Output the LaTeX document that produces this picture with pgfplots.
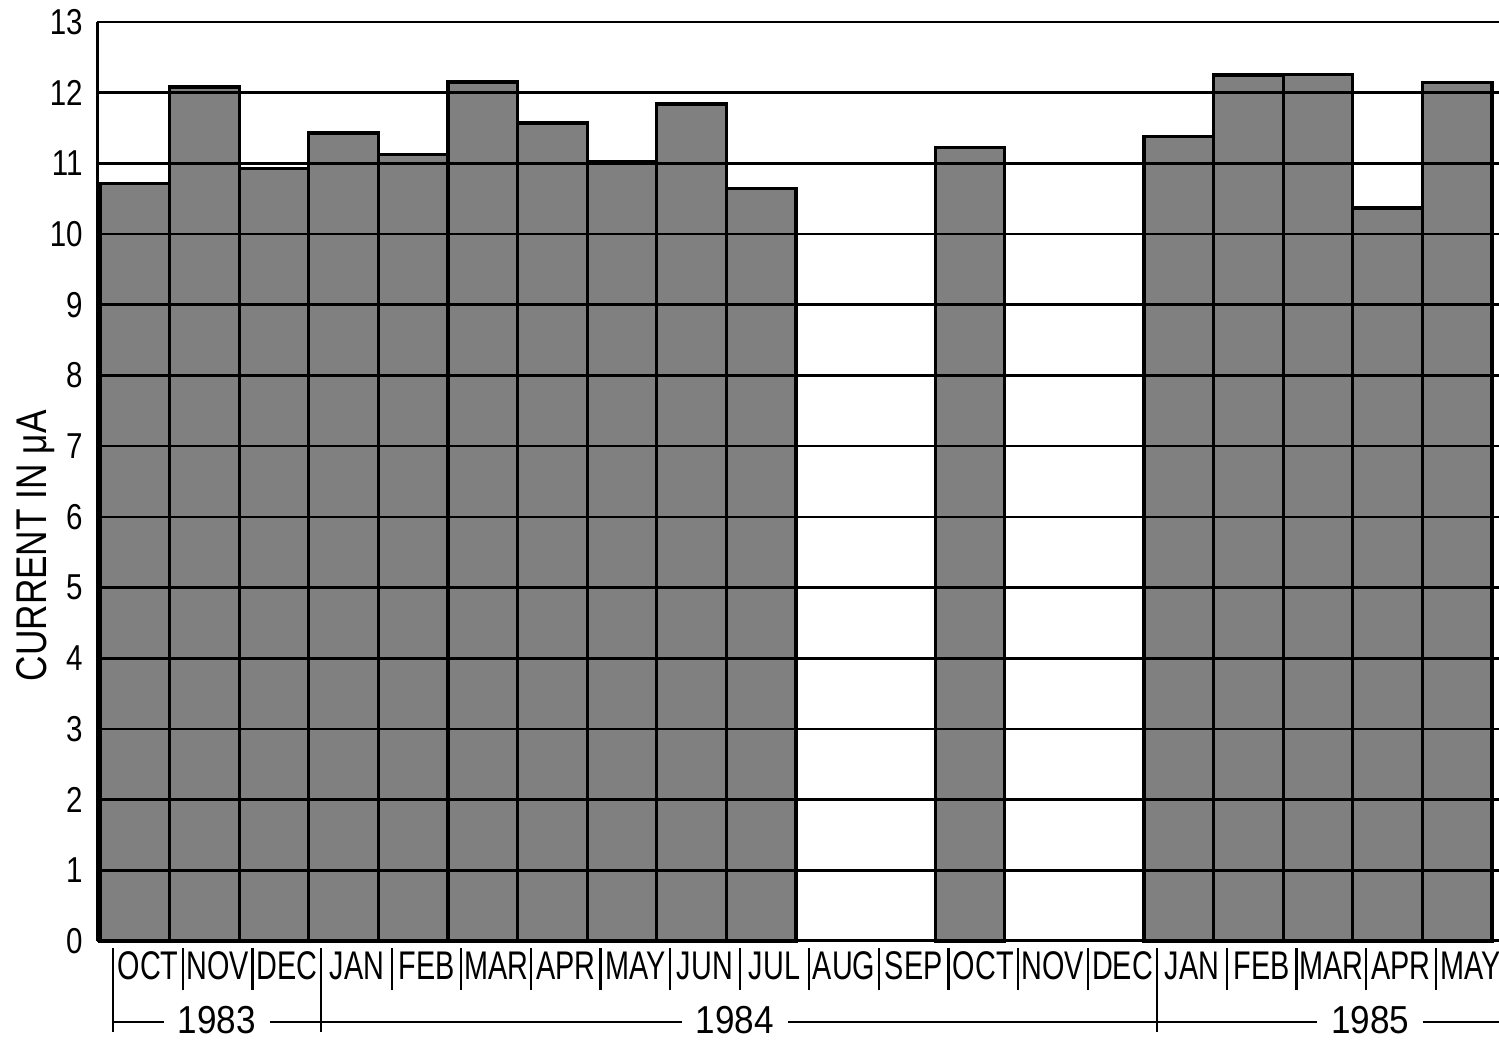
\documentclass[border=0pt]{standalone}
\usepackage{fontspec}
\setmainfont{Liberation Sans}[FakeStretch=0.82]
\newfontfamily\monthfont{Liberation Sans}[FakeStretch=0.72]
\newfontfamily\yearfont{Liberation Sans}[FakeStretch=0.9]
\usepackage{pgfplots}
\pgfplotsset{compat=1.18}
\begin{document}
\begin{tikzpicture}
\begin{axis}[
  name=ax,
  scale only axis,
  width=701pt, height=459.5pt,
  xmin=-0.043, xmax=20.1, ymin=0, ymax=13,
  axis x line=bottom, axis y line=left,
  axis line style={-, line width=1.5pt, black},
  xtick=\empty,
  ytick={0,1,...,13},
  major tick length=0pt,
  ymajorgrids,
  major grid style={black, line width=1.3pt},
  axis on top,
  clip=false,
  /pgf/number format/assume math mode=true,
  yticklabel style={font=\fontsize{18}{19}\selectfont, anchor=east, inner sep=0pt, xshift=-7pt},
  ylabel={CURRENT IN μA},
  ylabel style={font=\fontsize{21.5}{22}\selectfont, at={(axis description cs:-0.044,0.43)}, anchor=center},
]
\addplot[ybar, bar width=1, bar shift=0, fill=black!50, draw=black, line width=1.6pt] coordinates {
  (0.5,10.72) (1.5,12.08) (2.5,10.93) (3.5,11.43) (4.5,11.12)
  (5.5,12.15) (6.5,11.57) (7.5,11.02) (8.5,11.84) (9.5,10.64)
  (12.5,11.22)
  (15.5,11.38) (16.5,12.25) (17.5,12.26) (18.5,10.37) (19.5,12.14)
};
% month separators
\pgfplotsinvokeforeach{0,1,2,4,5,6,7,8,9,10,11,12,13,14,16,17,18,19}{
  \draw[line width=1.1pt] (axis cs:#1+0.19,-0.1) -- (axis cs:#1+0.19,-0.69);
}
% long year separators
\draw[line width=1.1pt] (axis cs:0.19,-0.1) -- (axis cs:0.19,-1.29);
\draw[line width=1.1pt] (axis cs:3.18,-0.1) -- (axis cs:3.18,-1.29);
\draw[line width=1.1pt] (axis cs:15.19,-0.1) -- (axis cs:15.19,-1.29);
\draw[line width=1.1pt] (axis cs:0.19,-1.15) -- (axis cs:20.1,-1.15);
\begin{scope}[every node/.style={font=\monthfont\fontsize{20}{21}\selectfont, anchor=base, inner sep=0pt}]
\node at (axis cs:0.69,-0.55) {OCT};
\node at (axis cs:1.69,-0.55) {NOV};
\node at (axis cs:2.69,-0.55) {DEC};
\node at (axis cs:3.69,-0.55) {JAN};
\node at (axis cs:4.69,-0.55) {FEB};
\node at (axis cs:5.69,-0.55) {MAR};
\node at (axis cs:6.69,-0.55) {APR};
\node at (axis cs:7.69,-0.55) {MAY};
\node at (axis cs:8.69,-0.55) {JUN};
\node at (axis cs:9.69,-0.55) {JUL};
\node at (axis cs:10.69,-0.55) {AUG};
\node at (axis cs:11.69,-0.55) {SEP};
\node at (axis cs:12.69,-0.55) {OCT};
\node at (axis cs:13.69,-0.55) {NOV};
\node at (axis cs:14.69,-0.55) {DEC};
\node at (axis cs:15.69,-0.55) {JAN};
\node at (axis cs:16.69,-0.55) {FEB};
\node at (axis cs:17.69,-0.55) {MAR};
\node at (axis cs:18.69,-0.55) {APR};
\node at (axis cs:19.69,-0.55) {MAY};
\end{scope}
\begin{scope}[every node/.style={font=\yearfont\fontsize{19.5}{20}\selectfont, anchor=base, fill=white, inner xsep=7pt, inner ysep=3pt}]
\node at (axis cs:1.68,-1.31) {1983};
\node at (axis cs:9.12,-1.31) {1984};
\node at (axis cs:18.25,-1.31) {1985};
\end{scope}
\end{axis}
\pgfresetboundingbox
\path[use as bounding box] ([shift={(-48.5pt,-50.5pt)}]ax.south west) rectangle ([shift={(0pt,11pt)}]ax.north east);
\end{tikzpicture}
\end{document}
